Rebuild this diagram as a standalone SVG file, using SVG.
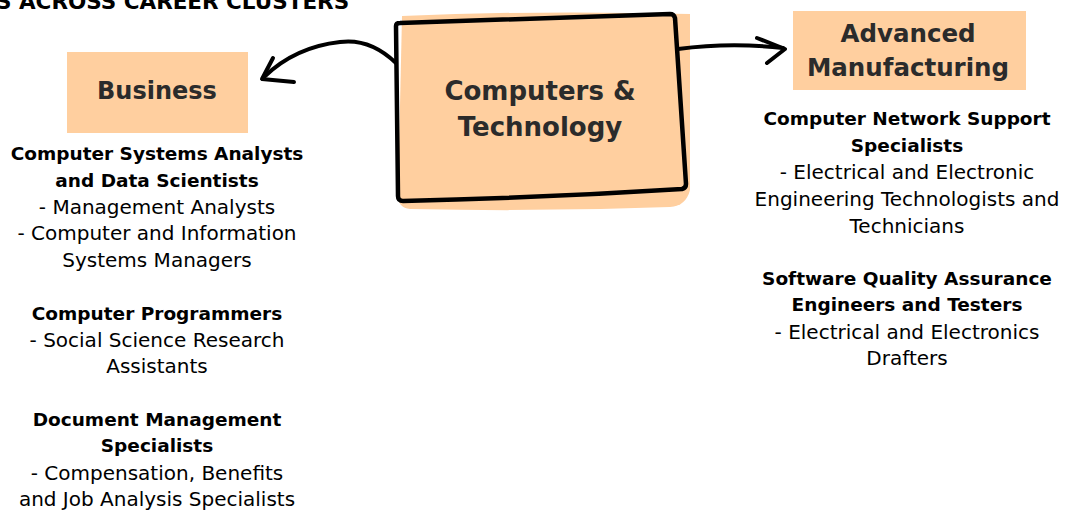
<svg xmlns="http://www.w3.org/2000/svg" width="1074" height="510" viewBox="0 0 1074 510">
<style>
.box{fill:#FFCF9F}
.hd{font-family:"DejaVu Sans",sans-serif;font-weight:bold;fill:#2b2b2b;text-anchor:middle}
.b{font-family:"DejaVu Sans",sans-serif;font-weight:bold;font-size:18.5px;fill:#000;text-anchor:middle}
.r{font-family:"DejaVu Sans",sans-serif;font-size:20px;fill:#000;text-anchor:middle}
.con{fill:none;stroke:#000;stroke-width:4;stroke-linecap:round;stroke-linejoin:round}
</style>
<rect width="1074" height="510" fill="#fff"/>
<text x="-4" y="9" font-family="DejaVu Sans,sans-serif" font-weight="bold" font-size="21.5" fill="#000">S ACROSS CAREER CLUSTERS</text>
<g id="business">
<rect class="box" x="67" y="52" width="181" height="81"/>
<text class="hd" x="157" y="99" font-size="24">Business</text>
</g>
<g id="computers">
<path class="box" d="M402,16 Q540,10 690,14 L690,190 Q686,206 670,207 Q540,212 410,209 Q398,208 398,195 Z"/>
<path d="M396,26 Q396,23 400,23 L670,14 Q674,14 675,18 L686,184 Q686,188 682,189 Q540,198 403,201 Q398,201 398,196 Z" fill="none" stroke="#000" stroke-width="4.5" stroke-linejoin="round"/>
<text class="hd" x="540" y="100" font-size="26">Computers &amp;</text>
<text class="hd" x="540" y="136" font-size="26">Technology</text>
</g>
<g id="advanced">
<rect class="box" x="793" y="11" width="233" height="79"/>
<text class="hd" x="908" y="42" font-size="24.5">Advanced</text>
<text class="hd" x="908" y="76" font-size="24.5">Manufacturing</text>
</g>
<g id="connectors">
<path class="con" d="M396,63 Q370,38 340,42 Q295,47 264,77"/>
<path class="con" d="M273,58 L262,79 L294,82"/>
<path class="con" d="M678,49 Q730,42 783,48"/>
<path class="con" d="M757,38 L785,49 L767,63"/>
</g>
<g id="business-list">
<text class="b" x="157" y="160">Computer Systems Analysts</text>
<text class="b" x="157" y="187">and Data Scientists</text>
<text class="r" x="157" y="214">- Management Analysts</text>
<text class="r" x="157" y="240">- Computer and Information</text>
<text class="r" x="157" y="267">Systems Managers</text>
<text class="b" x="157" y="320">Computer Programmers</text>
<text class="r" x="157" y="347">- Social Science Research</text>
<text class="r" x="157" y="373">Assistants</text>
<text class="b" x="157" y="426">Document Management</text>
<text class="b" x="157" y="452">Specialists</text>
<text class="r" x="157" y="480">- Compensation, Benefits</text>
<text class="r" x="157" y="506">and Job Analysis Specialists</text>
</g>
<g id="advanced-list">
<text class="b" x="907" y="125">Computer Network Support</text>
<text class="b" x="907" y="152">Specialists</text>
<text class="r" x="907" y="179">- Electrical and Electronic</text>
<text class="r" x="907" y="206">Engineering Technologists and</text>
<text class="r" x="907" y="233">Technicians</text>
<text class="b" x="907" y="285">Software Quality Assurance</text>
<text class="b" x="907" y="311">Engineers and Testers</text>
<text class="r" x="907" y="339">- Electrical and Electronics</text>
<text class="r" x="907" y="365">Drafters</text>
</g>
</svg>
